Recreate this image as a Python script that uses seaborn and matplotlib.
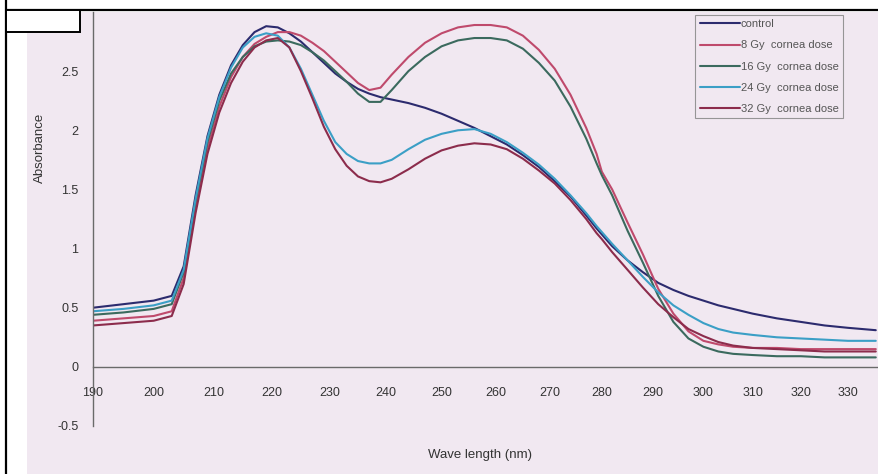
import numpy as np
import pandas as pd
import seaborn as sns
import matplotlib.pyplot as plt
from matplotlib.lines import Line2D
from matplotlib.patches import Rectangle

# wave lengths (nm)
wl = [190, 195, 200, 203, 205, 207, 209, 211, 213, 215, 217, 219, 221, 223, 225, 227, 229,
      231, 233, 235, 237, 239, 241, 244, 247, 250, 253, 256, 259, 262, 265, 268, 271, 274,
      277, 279, 280, 282, 285, 288, 291, 294, 297, 300, 303, 306, 310, 315, 320, 325, 330, 336]

control = [0.50, 0.53, 0.56, 0.60, 0.85, 1.45, 1.95, 2.30, 2.55, 2.72, 2.83, 2.88, 2.87, 2.82,
           2.75, 2.66, 2.57, 2.48, 2.41, 2.35, 2.31, 2.28, 2.26, 2.23, 2.19, 2.14, 2.08, 2.02,
           1.95, 1.88, 1.79, 1.69, 1.57, 1.44, 1.28, 1.17, 1.12, 1.02, 0.90, 0.80, 0.71, 0.65,
           0.60, 0.56, 0.52, 0.49, 0.45, 0.41, 0.38, 0.35, 0.33, 0.31]
gy8 = [0.39, 0.41, 0.43, 0.47, 0.75, 1.35, 1.85, 2.20, 2.45, 2.62, 2.73, 2.79, 2.83, 2.83,
       2.80, 2.74, 2.67, 2.58, 2.49, 2.40, 2.34, 2.36, 2.47, 2.62, 2.74, 2.82, 2.87, 2.89,
       2.89, 2.87, 2.80, 2.68, 2.52, 2.30, 2.02, 1.80, 1.65, 1.50, 1.22, 0.95, 0.66, 0.45,
       0.30, 0.22, 0.19, 0.17, 0.16, 0.16, 0.15, 0.15, 0.15, 0.15]
gy16 = [0.44, 0.46, 0.49, 0.53, 0.80, 1.40, 1.90, 2.25, 2.48, 2.62, 2.71, 2.75, 2.76, 2.75,
        2.72, 2.66, 2.59, 2.50, 2.41, 2.31, 2.24, 2.24, 2.34, 2.50, 2.62, 2.71, 2.76, 2.78,
        2.78, 2.76, 2.69, 2.57, 2.42, 2.20, 1.93, 1.72, 1.62, 1.45, 1.15, 0.88, 0.60, 0.38,
        0.24, 0.17, 0.13, 0.11, 0.10, 0.09, 0.09, 0.08, 0.08, 0.08]
gy24 = [0.47, 0.49, 0.52, 0.56, 0.82, 1.42, 1.93, 2.28, 2.53, 2.70, 2.79, 2.82, 2.80, 2.70,
        2.52, 2.30, 2.08, 1.90, 1.80, 1.74, 1.72, 1.72, 1.75, 1.84, 1.92, 1.97, 2.00, 2.01,
        1.97, 1.90, 1.81, 1.71, 1.59, 1.45, 1.30, 1.19, 1.14, 1.04, 0.90, 0.76, 0.63, 0.52,
        0.44, 0.37, 0.32, 0.29, 0.27, 0.25, 0.24, 0.23, 0.22, 0.22]
gy32 = [0.35, 0.37, 0.39, 0.43, 0.70, 1.30, 1.80, 2.15, 2.40, 2.58, 2.70, 2.76, 2.78, 2.70,
        2.50, 2.27, 2.03, 1.84, 1.70, 1.61, 1.57, 1.56, 1.59, 1.67, 1.76, 1.83, 1.87, 1.89,
        1.88, 1.84, 1.76, 1.66, 1.55, 1.41, 1.25, 1.13, 1.08, 0.97, 0.82, 0.67, 0.53, 0.42,
        0.32, 0.26, 0.21, 0.18, 0.16, 0.15, 0.14, 0.13, 0.13, 0.13]

series = ["control", "8 Gy  cornea dose", "16 Gy  cornea dose",
          "24 Gy  cornea dose", "32 Gy  cornea dose"]
colors = ["#2c2b6e", "#bf4a6c", "#3b6a5e", "#3b9fc6", "#8c2c4c"]

xticks = list(range(190, 331, 10))
yticks = [-0.5, 0, 0.5, 1, 1.5, 2, 2.5]
yticklabels = ["-0.5", "0", "0.5", "1", "1.5", "2", "2.5"]

df = pd.DataFrame({"wl": wl, series[0]: control, series[1]: gy8, series[2]: gy16,
                   series[3]: gy24, series[4]: gy32})
df = df.melt(id_vars="wl", var_name="series", value_name="absorbance")

sns.set_theme(style="white")
plt.rcParams["font.family"] = ["Liberation Sans", "DejaVu Sans"]

bg = "#f1e8f1"
fig = plt.figure(figsize=(8.79, 4.74), dpi=100, facecolor="white")

# scanned page frame
fig.add_artist(Rectangle((27 / 879, 0), 1, 1 - 12 / 474, transform=fig.transFigure,
                         facecolor=bg, edgecolor="none", zorder=0))
fig.add_artist(Line2D([6 / 879, 1], [1 - 10 / 474] * 2, transform=fig.transFigure,
                      color="black", lw=1.6))
fig.add_artist(Line2D([6 / 879] * 2, [0, 1], transform=fig.transFigure,
                      color="black", lw=1.6))
fig.add_artist(Rectangle((6 / 879, 1 - 32 / 474), 74 / 879, 22 / 474, transform=fig.transFigure,
                         facecolor="white", edgecolor="black", lw=1.4, zorder=5))

ax = fig.add_axes([93 / 879, 48 / 474, 1 - 93 / 879, 414 / 474])
ax.set_facecolor("none")

sns.lineplot(data=df, x="wl", y="absorbance", hue="series", hue_order=series,
             palette=dict(zip(series, colors)), estimator=None, sort=False,
             linewidth=1.5, ax=ax)

# the photographed page squeezes the right side of the wavelength axis
a, b = 6.107, -0.0052


def fwd(x):
    u = np.asarray(x, dtype=float) - 190
    return a * u + b * u ** 2


def inv(p):
    p = np.asarray(p, dtype=float)
    return 190 + (a - np.sqrt(np.clip(a * a + 4 * b * p, 0, None))) / (-2 * b)


ax.set_xscale("function", functions=(fwd, inv))
ax.set_xlim(190, 336.7)
ax.set_ylim(-0.5, 3.0)

ax.spines["top"].set_visible(False)
ax.spines["right"].set_visible(False)
ax.spines["bottom"].set_position(("data", 0))
for s in ("left", "bottom"):
    ax.spines[s].set_color("#6a6a6a")
    ax.spines[s].set_linewidth(1.0)

ax.set_xticks(xticks)
ax.set_xticklabels([str(t) for t in xticks])
ax.set_yticks(yticks)
ax.set_yticklabels(yticklabels)
ax.minorticks_off()
ax.tick_params(axis="x", direction="inout", length=9, width=1, color="#6a6a6a",
               pad=10, labelsize=9, labelcolor="#333333")
ax.tick_params(axis="y", direction="inout", length=9, width=1, color="#6a6a6a",
               pad=6, labelsize=9, labelcolor="#333333")
ax.set_xlabel("")
ax.set_ylabel("")

fig.text(480 / 879, 1 - 455 / 474, "Wave length (nm)", ha="center", va="center",
         fontsize=9.5, color="#333333")
fig.text(40 / 879, 1 - 148 / 474, "Absorbance", ha="center", va="center",
         rotation=90, fontsize=9.5, color="#333333")

leg = ax.legend(loc="upper left", bbox_to_anchor=(0.766, 0.993), borderaxespad=0,
                frameon=True, fancybox=False, fontsize=8, handlelength=3.6,
                handletextpad=0.1, labelspacing=1.0, borderpad=0.4)
leg.get_frame().set_facecolor(bg)
leg.get_frame().set_edgecolor("#808080")
leg.get_frame().set_linewidth(0.8)
for t in leg.get_texts():
    t.set_color("#555555")

fig.savefig("out.png", dpi=100, facecolor="white")
